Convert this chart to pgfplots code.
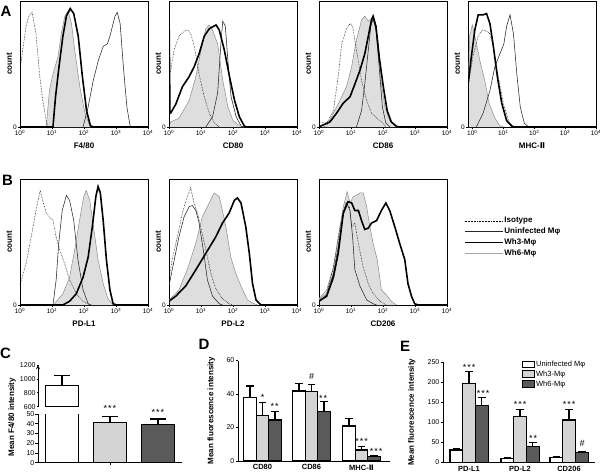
\documentclass[border=0pt]{standalone}
\usepackage{pgfplots}
\pgfplotsset{compat=1.18}
\usepackage{fontspec}
\setmainfont{Liberation Sans}
\newfontfamily\dejavu{DejaVu Sans}
\definecolor{lgrey}{HTML}{D4D4D4}
\definecolor{dgrey}{HTML}{5A5A5A}
\tikzset{
  iso/.style={black, densely dotted, line width=0.55pt},
  uninf/.style={black!85, line width=0.55pt},
  wh3/.style={black, line width=1.6pt},
  wh6/.style={black!45, line width=0.5pt, fill=black!13},
  wh6l/.style={black!35, line width=0.8pt},
  star/.style={font=\fontsize{9}{9}\selectfont, yshift=-2pt},
  letter/.style={font=\bfseries\fontsize{15}{15}\selectfont},
}
\pgfplotsset{
  hist/.style={
    scale only axis, width=128pt, height=126pt, anchor=south west,
    xmin=0, xmax=4, ymin=0, ymax=100,
    xtick={0,1,2,3,4},
    xticklabels={10\textsuperscript{0},10\textsuperscript{1},10\textsuperscript{2},10\textsuperscript{3},10\textsuperscript{4}},
    minor xtick={-0.046,-0.097,0.301,0.477,0.602,0.699,0.778,0.845,0.903,0.954,1.301,1.477,1.602,1.699,1.778,1.845,1.903,1.954,2.301,2.477,2.602,2.699,2.778,2.845,2.903,2.954,3.301,3.477,3.602,3.699,3.778,3.845,3.903,3.954},
    ytick={0}, yticklabels={0},
    xtick pos=bottom, ytick pos=left, tick align=outside,
    major tick length=2pt, minor tick length=1.3pt,
    tick style={black, line width=0.4pt},
    axis line style={black, line width=0.5pt},
    ticklabel style={font=\fontsize{6.5}{7}\selectfont, inner sep=1pt},
    ylabel={count},
    ylabel style={font=\bfseries\fontsize{8}{9}\selectfont, at={(axis description cs:-0.035,0.5)}, anchor=south},
    xlabel style={font=\bfseries\fontsize{8}{9}\selectfont, yshift=-2pt},
  },
  barax/.style={
    scale only axis, anchor=south west,
    axis lines=left, axis line style={-, line width=0.9pt, black},
    tick align=outside, major tick length=2.5pt,
    tick style={black, line width=0.8pt},
    ticklabel style={font=\fontsize{7}{8}\selectfont, inner sep=1pt},
    /pgf/number format/assume math mode=true,
    /pgf/number format/set thousands separator={},
    xticklabel style={font=\bfseries\fontsize{7.5}{8}\selectfont},
    x tick style={draw=none},
    ylabel style={font=\bfseries\fontsize{8}{9}\selectfont, anchor=south},
    clip mode=individual,
  },
  bw/.style={ybar, bar width=#1, bar shift=0pt, draw=black, line width=1.1pt,
    /pgfplots/error bars/y dir=plus, /pgfplots/error bars/y explicit,
    /pgfplots/error bars/error bar style={line width=1.1pt, black},
    /pgfplots/error bars/error mark options={rotate=90, line width=1.1pt, black, mark size=3.8pt}},
}
\begin{document}
\begin{tikzpicture}[font=\fontsize{7}{8}\selectfont]
\path[use as bounding box] (0pt,0pt) rectangle (600pt,-474pt);

% ---------- Row A ----------
\begin{axis}[hist, at={(20pt,-127pt)}, xlabel={F4/80}]
\addplot[wh6] coordinates {(0.82,0)(0.92,29)(1.03,42)(1.19,56)(1.29,74)(1.40,88)(1.50,92)(1.61,82)(1.71,61)(1.87,32)(2.03,11)(2.18,1)(2.29,0)};
\addplot[iso] coordinates {(0,45)(0.084,61)(0.19,80)(0.29,89)(0.38,91)(0.50,74)(0.61,42)(0.71,21)(0.82,5)(0.87,0)};
\addplot[uninf] coordinates {(1.97,0)(2.13,16)(2.29,37)(2.45,53)(2.60,64)(2.73,66)(2.81,72)(2.97,88)(3.04,91)(3.13,82)(3.23,48)(3.34,16)(3.44,1)(3.50,0)};
\addplot[wh3] coordinates {(0,0)(1.03,0)(1.11,24)(1.22,48)(1.34,72)(1.45,88)(1.57,94)(1.68,90)(1.82,72)(1.95,40)(2.08,13)(2.20,1)(2.29,0)(4,0)};
\end{axis}

\begin{axis}[hist, at={(169pt,-127pt)}, xlabel={CD80}]
\addplot[wh6] coordinates {(0,0)(0.05,4)(0.31,7)(0.63,21)(0.84,40)(1.00,61)(1.15,78)(1.26,81)(1.36,77)(1.52,66)(1.68,37)(1.84,16)(2.0,5)(2.2,1)(2.36,0)};
\addplot[iso] coordinates {(0,44)(0.05,44)(0.16,61)(0.31,72)(0.47,76)(0.58,77)(0.68,74)(0.79,64)(0.94,42)(1.10,24)(1.26,11)(1.42,3)(1.57,0)};
\addplot[uninf] coordinates {(1.15,0)(1.36,8)(1.52,27)(1.63,69)(1.68,84)(1.76,80)(1.84,53)(1.94,24)(2.10,8)(2.26,0.5)(2.36,0)};
\addplot[wh3] coordinates {(0,0)(0,94)(0.03,11)(0.05,11)(0.21,18)(0.42,32)(0.63,40)(0.79,48)(0.94,58)(1.10,72)(1.26,78)(1.47,81)(1.57,77)(1.73,61)(1.89,40)(2.05,21)(2.20,8)(2.36,0.5)(2.47,0)(4,0)};
\end{axis}

\begin{axis}[hist, at={(319pt,-127pt)}, xlabel={CD86}]
\addplot[wh6] coordinates {(0.1,0)(0.24,1)(0.45,11)(0.65,21)(0.86,32)(1.02,48)(1.17,69)(1.33,85)(1.43,88)(1.54,84)(1.64,86)(1.75,82)(1.85,66)(1.95,34)(2.06,16)(2.21,5)(2.42,1)(2.52,0)};
\addplot[iso] coordinates {(0,4)(0.03,4)(0.24,3)(0.45,13)(0.60,40)(0.71,66)(0.86,78)(0.97,82)(1.05,80)(1.17,61)(1.33,37)(1.49,21)(1.64,11)(1.80,7)(1.95,4)(2.11,0)};
\addplot[uninf] coordinates {(1.17,0)(1.33,13)(1.43,34)(1.54,61)(1.62,80)(1.69,86)(1.78,77)(1.88,48)(1.98,16)(2.09,3)(2.21,0)};
\addplot[wh3] coordinates {(0,0)(0.03,0.5)(0.34,4)(0.55,11)(0.76,19)(0.97,24)(1.12,34)(1.28,45)(1.43,58)(1.54,72)(1.64,85)(1.69,88)(1.78,80)(1.88,56)(2.01,32)(2.13,13)(2.26,4)(2.42,0.5)(2.52,0)(4,0)};
\end{axis}

\begin{axis}[hist, at={(468pt,-127pt)}, xmin=-0.14, xlabel={MHC-{\dejavu Ⅱ}}]
\addplot[wh6] coordinates {(-0.14,0)(-0.14,13)(-0.09,72)(0,81)(0.11,69)(0.24,53)(0.40,37)(0.54,19)(0.73,7)(0.89,1)(1.0,0)};
\addplot[iso] coordinates {(-0.14,32)(0.02,56)(0.19,72)(0.33,77)(0.46,76)(0.57,74)(0.68,64)(0.84,40)(1.0,19)(1.17,5)(1.33,0)};
\addplot[uninf] coordinates {(0.13,0)(0.35,11)(0.57,29)(0.73,48)(0.89,58)(1.02,66)(1.11,80)(1.22,89)(1.33,74)(1.44,42)(1.55,16)(1.68,3)(1.82,0)};
\addplot[wh3] coordinates {(-0.14,0)(-0.14,34)(-0.03,56)(0.08,77)(0.19,89)(0.35,89)(0.46,90)(0.57,82)(0.68,64)(0.81,40)(0.95,19)(1.11,5)(1.28,0.5)(1.38,0)(4,0)};
\end{axis}

% ---------- Row B ----------
\begin{axis}[hist, at={(20pt,-305pt)}, xlabel={PD-L1}]
\addplot[wh6] coordinates {(1.03,0)(1.18,4)(1.34,9)(1.55,22)(1.71,44)(1.86,67)(1.99,86)(2.07,91)(2.18,83)(2.28,65)(2.44,36)(2.60,17)(2.75,5)(2.91,0)};
\addplot[iso] coordinates {(0,16)(0.19,33)(0.35,54)(0.50,75)(0.63,91)(0.71,83)(0.82,73)(0.92,70)(1.03,67)(1.13,54)(1.24,44)(1.39,33)(1.55,20)(1.76,9)(1.97,3)(2.18,0)};
\addplot[uninf] coordinates {(1.03,0)(1.13,20)(1.21,49)(1.32,75)(1.45,87)(1.55,83)(1.68,67)(1.81,36)(1.97,12)(2.13,1)(2.23,0)};
\addplot[wh3] coordinates {(0,0)(1.34,0)(1.55,3)(1.76,9)(1.97,22)(2.13,38)(2.26,62)(2.37,86)(2.44,94)(2.51,89)(2.60,67)(2.70,36)(2.81,12)(2.91,1)(3.02,0)(4,0)};
\end{axis}

\begin{axis}[hist, at={(169pt,-305pt)}, xlabel={PD-L2}]
\addplot[wh6] coordinates {(0,0)(0,4)(0.31,12)(0.57,28)(0.84,49)(1.04,70)(1.20,78)(1.41,89)(1.57,86)(1.67,75)(1.78,62)(1.93,38)(2.09,25)(2.25,15)(2.45,4)(2.66,1)(2.77,0)};
\addplot[iso] coordinates {(0,21)(0.10,36)(0.26,54)(0.42,73)(0.57,86)(0.68,93)(0.78,81)(0.89,73)(0.99,62)(1.15,44)(1.31,25)(1.46,13)(1.67,5)(1.88,1)(1.98,0)};
\addplot[uninf] coordinates {(0,15)(0.10,28)(0.31,54)(0.47,70)(0.63,78)(0.73,79)(0.84,75)(0.94,65)(1.07,44)(1.20,20)(1.36,7)(1.57,1)(1.67,0)};
\addplot[wh3] coordinates {(0,0)(0,3)(0.21,7)(0.52,15)(0.84,28)(1.15,41)(1.46,54)(1.67,65)(1.88,73)(2.04,83)(2.14,85)(2.25,81)(2.40,62)(2.51,41)(2.61,17)(2.72,4)(2.87,0)(4,0)};
\end{axis}

\begin{axis}[hist, at={(319pt,-305pt)}, xlabel={CD206},
  legend style={draw=none, fill=none, at={(axis description cs:1.13,0.705)}, anchor=north west,
    font=\bfseries\fontsize{8}{8.5}\selectfont, row sep=1.6pt, inner sep=0pt,
    nodes={inner sep=1pt}, cells={anchor=west}},
  legend image code/.code={\draw[#1] (0pt,0pt) -- (38pt,0pt);}]
\addlegendimage{iso}\addlegendentry{Isotype}
\addlegendimage{uninf, line width=0.8pt}\addlegendentry{Uninfected Mφ}
\addlegendimage{wh3}\addlegendentry{Wh3-Mφ}
\addlegendimage{wh6l}\addlegendentry{Wh6-Mφ}
\addplot[wh6, forget plot] coordinates {(0,0)(0,5)(0.24,12)(0.45,30)(0.60,54)(0.76,78)(0.88,90)(0.97,81)(1.07,86)(1.17,87)(1.28,89)(1.38,89)(1.49,78)(1.59,62)(1.69,49)(1.82,36)(1.95,12)(2.11,8)(2.26,3)(2.42,0)};
\addplot[iso, forget plot] coordinates {(0,4)(0.24,9)(0.45,30)(0.60,52)(0.74,73)(0.84,81)(0.95,78)(1.02,62)(1.12,65)(1.23,49)(1.38,30)(1.54,17)(1.69,9)(1.90,3)(2.11,0)};
\addplot[uninf, forget plot] coordinates {(0,3)(0.24,8)(0.45,25)(0.60,46)(0.74,70)(0.86,81)(0.97,75)(1.05,54)(1.12,28)(1.28,15)(1.49,4)(1.69,1)(1.80,0)};
\addplot[wh3, forget plot] coordinates {(0,0)(0,3)(0.24,7)(0.45,22)(0.60,41)(0.76,73)(0.91,82)(1.02,81)(1.12,75)(1.23,75)(1.33,67)(1.43,60)(1.54,61)(1.64,65)(1.80,67)(1.95,75)(2.09,81)(2.21,75)(2.37,62)(2.52,49)(2.68,36)(2.78,17)(2.89,7)(2.99,1)(3.10,0)(4,0)};
\end{axis}

% ---------- Panel C (broken axis) ----------
\begin{axis}[barax, at={(38pt,-462.7pt)}, width=144pt, height=48.7pt,
  xmin=38, xmax=182, ymin=0, ymax=50, ytick={0,10,20,30,40,50},
  xtick={110}, xticklabels={}, x tick style={draw, black, line width=0.8pt}]
\addplot[bw=33pt, fill=white, forget plot] coordinates {(62,900)};
\addplot[bw=33pt, fill=lgrey, /pgfplots/error bars/error mark options={rotate=90, line width=1.1pt, black, mark size=8pt}] coordinates {(110,41.1) +- (0,6.2)};
\addplot[bw=33pt, fill=dgrey, /pgfplots/error bars/error mark options={rotate=90, line width=1.1pt, black, mark size=8pt}] coordinates {(158,39.5) +- (0,5.4)};
\node[star] at (axis cs:110,57.5) {*\kern1pt*\kern1pt*};
\node[star] at (axis cs:158,54) {*\kern1pt*\kern1pt*};
\end{axis}
\begin{axis}[barax, at={(38pt,-406.7pt)}, width=144pt, height=41.7pt,
  axis x line=none, axis y line=left,
  xmin=38, xmax=182, ymin=600, ymax=1200, ytick={600,800,1000,1200}]
\addplot[bw=33pt, fill=white, /pgfplots/error bars/error mark options={rotate=90, line width=1.1pt, black, mark size=8pt}] coordinates {(62,900) +- (0,145)};
\end{axis}
\node[rotate=90, font=\bfseries\fontsize{8}{9}\selectfont] at (12pt,-417pt) {Mean F4/80 intensity};

% ---------- Panel D ----------
\begin{axis}[barax, at={(238pt,-461pt)}, width=152pt, height=100.5pt,
  xmin=238, xmax=390, ymin=0, ymax=60, ytick={0,20,40,60},
  xtick={262.5,311.5,361.5}, xticklabels={CD80,CD86,MHC-{\dejavu Ⅱ}},
  ylabel={Mean fluorescence intensity}, ylabel style={at={(axis description cs:-0.128,0.5)}}]
\addplot[bw=12.5pt, fill=white] coordinates {(250,37.8) +- (0,7.0) (299,41.8) +- (0,4.6) (349,20.9) +- (0,4.6)};
\addplot[bw=12.5pt, fill=lgrey] coordinates {(262.5,26.9) +- (0,7.9) (311.5,41.4) +- (0,4.4) (361.5,6.6) +- (0,2.0)};
\addplot[bw=12.5pt, fill=dgrey] coordinates {(275,24.5) +- (0,4.9) (324,29.4) +- (0,6.0) (374,2.6) +- (0,0.8)};
\node[star] at (axis cs:262.5,39.4) {*};
\node[star] at (axis cs:274.5,34) {*\kern1pt*};
\node[font=\fontsize{9}{9}\selectfont] at (axis cs:311.5,50.7) {\#};
\node[star] at (axis cs:323,38.4) {*\kern1pt*};
\node[star] at (axis cs:361.5,13) {*\kern1pt*\kern1pt*};
\node[star] at (axis cs:376,7) {*\kern1pt*\kern1pt*};
\end{axis}

% ---------- Panel E ----------
\begin{axis}[barax, at={(443pt,-462.3pt)}, width=152pt, height=100pt,
  xmin=443, xmax=595, ymin=0, ymax=250, ytick={0,50,100,150,200,250},
  xtick={469,520,569}, xticklabels={PD-L1,PD-L2,CD206},
  ylabel={Mean fluorescence intensity}, ylabel style={at={(axis description cs:-0.158,0.5)}},
  legend style={draw=none, fill=none, at={(axis description cs:0.52,1.025)}, anchor=north west,
    font=\fontsize{7.5}{8}\selectfont, row sep=1pt, inner sep=0pt, nodes={inner sep=1pt}, cells={anchor=west}},
  legend image code/.code={\draw[#1, line width=0.9pt] (0pt,-3pt) rectangle (12pt,3.5pt);}]
\addlegendimage{fill=white, draw=black}\addlegendentry{Uninfected Mφ}
\addlegendimage{fill=lgrey, draw=black}\addlegendentry{Wh3-Mφ}
\addlegendimage{fill=dgrey, draw=black}\addlegendentry{Wh6-Mφ}
\addplot[bw=12.7pt, fill=white, forget plot] coordinates {(456.3,30.8) +- (0,3.2) (507.3,10) +- (0,2.5) (556.3,12.5) +- (0,2.5)};
\addplot[bw=12.7pt, fill=lgrey, forget plot] coordinates {(469,197.5) +- (0,30.5) (520,114) +- (0,18.5) (569,105.8) +- (0,26.7)};
\addplot[bw=12.7pt, fill=dgrey, forget plot] coordinates {(481.7,141.5) +- (0,20) (532.7,39) +- (0,10) (581.7,25) +- (0,3)};
\node[star] at (axis cs:469,243) {*\kern1pt*\kern1pt*};
\node[star] at (axis cs:483,176.5) {*\kern1pt*\kern1pt*};
\node[star] at (axis cs:520,150) {*\kern1pt*\kern1pt*};
\node[star] at (axis cs:533,66) {*\kern1pt*};
\node[star] at (axis cs:569,150) {*\kern1pt*\kern1pt*};
\node[font=\fontsize{9}{9}\selectfont] at (axis cs:582,47.5) {\#};
\end{axis}

% ---------- Panel letters ----------
\node[letter] at (6pt,-11pt) {A};
\node[letter] at (7.5pt,-180.5pt) {B};
\node[letter] at (5.5pt,-353pt) {C};
\node[letter] at (204pt,-344.5pt) {D};
\node[letter] at (405pt,-346pt) {E};
\end{tikzpicture}
\end{document}
